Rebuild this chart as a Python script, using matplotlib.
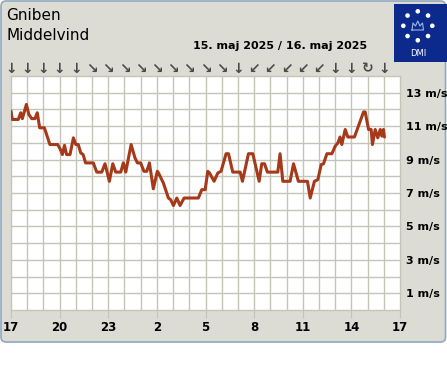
import matplotlib
matplotlib.use("Agg")
import matplotlib.pyplot as plt
from matplotlib.patches import FancyBboxPatch, Rectangle, Circle
import math

plt.rcParams["font.family"] = ["DejaVu Sans"]

# data (hours after 17:00, wind speed m/s)
hours = [0, 0.08, 0.45, 0.6, 0.7, 0.95, 1.1, 1.28, 1.48, 1.62, 1.77, 2.06, 2.4, 2.88,
         3.05, 3.17, 3.3, 3.43, 3.64, 3.85, 4.0, 4.15, 4.3, 4.45, 4.6, 5.08, 5.29, 5.6,
         5.8, 6.07, 6.28, 6.46, 6.77, 6.93, 7.08, 7.41, 7.65, 7.8, 8.0, 8.2, 8.38, 8.54,
         8.78, 9.03, 9.1, 9.4, 9.71, 9.85, 10.02, 10.23, 10.43, 10.68, 11.56, 11.77,
         11.98, 12.14, 12.25, 12.53, 12.76, 12.96, 13.27, 13.42, 13.68, 14.14, 14.28,
         14.65, 14.92, 15.31, 15.47, 15.64, 15.82, 16.46, 16.6, 16.77, 17.22, 17.43,
         17.73, 18.29, 18.46, 18.72, 18.93, 19.14, 19.28, 19.49, 19.8, 20.0, 20.17,
         20.3, 20.41, 20.62, 20.78, 21.19, 21.75, 21.85, 22.06, 22.22, 22.3, 22.47,
         22.63, 22.78, 22.88, 22.98, 23.04]
wind = [11.9, 11.4, 11.4, 11.8, 11.45, 12.3, 11.7, 11.45, 11.45, 11.8, 10.9, 10.9, 9.9,
        9.9, 9.6, 9.3, 9.85, 9.3, 9.3, 10.3, 9.9, 9.9, 9.4, 9.3, 8.8, 8.8, 8.25, 8.25,
        8.75, 7.7, 8.75, 8.25, 8.25, 8.8, 8.25, 9.9, 9.1, 8.8, 8.8, 8.3, 8.3, 8.8, 7.25,
        8.3, 8.2, 7.6, 6.7, 6.6, 6.25, 6.7, 6.25, 6.7, 6.7, 7.2, 7.2, 8.3, 8.2, 7.7,
        8.2, 8.3, 9.35, 9.35, 8.25, 8.25, 7.7, 9.35, 9.35, 7.7, 8.75, 8.75, 8.25, 8.25,
        9.35, 7.7, 7.7, 8.75, 7.7, 7.7, 6.7, 7.7, 7.8, 8.7, 8.75, 9.35, 9.35, 9.8, 10.0,
        10.35, 9.9, 10.8, 10.35, 10.35, 11.85, 11.85, 10.8, 10.8, 9.9, 10.8, 10.3, 10.8,
        10.4, 10.8, 10.35]

# wind direction arrows, one per hour
directions = ["↓"] * 5 + ["↘"] * 9 + ["↓"] + ["↙"] * 5 + ["↓"] * 2 + ["↻"] + ["↓"]

xtick_pos = [0, 3, 6, 9, 12, 15, 18, 21, 24]
xtick_labels = ["17", "20", "23", "2", "5", "8", "11", "14", "17"]
ytick_pos = [1, 3, 5, 7, 9, 11, 13]
ytick_labels = ["%d m/s" % v for v in ytick_pos]

W, H = 447, 370
fig = plt.figure(figsize=(W / 100, H / 100), dpi=100)
fig.patch.set_facecolor("white")

# background panel in pixel coordinates
bg = fig.add_axes([0, 0, 1, 1], zorder=0)
bg.set_xlim(0, W)
bg.set_ylim(H, 0)
bg.axis("off")
bg.add_patch(FancyBboxPatch((1, 1), 444.5, 341, boxstyle="round,pad=0,rounding_size=5",
                            facecolor="#dcdcd4", edgecolor="#8fa9bf", linewidth=1.2))

bg.text(6, 16, "Gniben", fontsize=11, va="center", ha="left", color="black")
bg.text(6, 35, "Middelvind", fontsize=11, va="center", ha="left", color="black")
bg.text(367, 46, "15. maj 2025 / 16. maj 2025", fontsize=8, fontweight="bold",
        va="center", ha="right", color="black")

# DMI logo
bg.add_patch(Rectangle((393.5, 4), 53, 58, facecolor="#0c2a8c", edgecolor="none"))
for k in range(8):
    a = math.radians(90 + 45 * k)
    bg.add_patch(Circle((417.8 + 14.5 * math.cos(a), 25.8 - 14.5 * math.sin(a)), 2.3,
                        facecolor="white", edgecolor="none"))
bg.plot([412, 413, 415.5, 417.8, 420, 422.5, 423.5, 412],
        [30, 23, 26, 21, 26, 23, 30, 30], color="#9fb4e6", lw=0.8)
bg.text(417.8, 53, "DMI", fontsize=6, color="white", ha="center", va="center")

# plot area
left, right, top, bottom = 11, 400, 76, 310
ax = fig.add_axes([left / W, 1 - bottom / H, (right - left) / W, (bottom - top) / H], zorder=1)
ax.set_facecolor("white")
ax.set_xlim(0, 24)
ax.set_ylim(0, 14)
for v in range(1, 24):
    ax.axvline(v, color="#c4c4b8", linewidth=1, zorder=1)
for v in range(1, 14):
    ax.axhline(v, color="#c4c4b8", linewidth=1, zorder=1)
for s in ax.spines.values():
    s.set_color("#c4c4b8")
    s.set_linewidth(1)

ax.plot(hours, wind, color="#a5391a", linewidth=2.2, solid_joinstyle="round",
        solid_capstyle="round", zorder=3)

ax.set_xticks(xtick_pos)
ax.set_xticklabels(xtick_labels, fontsize=8.5, fontweight="bold")
ax.tick_params(axis="x", which="major", length=6, color="#c4c4b8", pad=2)
ax.yaxis.tick_right()
ax.set_yticks(ytick_pos)
ax.set_yticklabels(ytick_labels, fontsize=8, fontweight="bold")
ax.tick_params(axis="y", which="major", length=0, pad=4)

# direction arrows above the plot
for i, d in enumerate(directions):
    ax.text(i, 14.45, d, fontsize=10, fontweight="bold", color="#4a4a4a",
            ha="center", va="center", clip_on=False)

fig.savefig("out.png", dpi=100, facecolor="white")
